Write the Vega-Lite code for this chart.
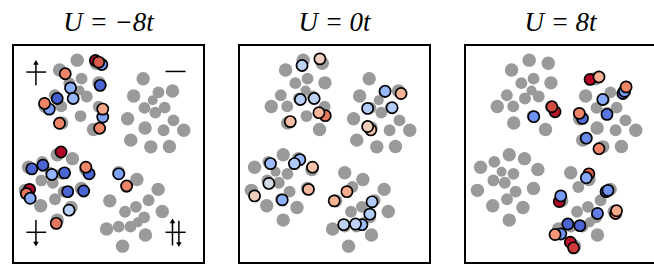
{
  "$schema": "https://vega.github.io/schema/vega-lite/v6.json",
  "padding": {"left": 12, "top": 8, "right": 0, "bottom": 0},
  "background": "#ffffff",
  "spacing": 33,
  "config": {
    "view": {"stroke": "#000000", "strokeWidth": 2},
    "title": {"font": "Liberation Serif", "fontSize": 27, "fontStyle": "italic", "fontWeight": "normal", "anchor": "middle", "color": "#000000", "offset": 8}
  },
  "datasets": {
    "sites": [
      {"x": 136.3, "y": 34, "ring": "o"}, {"x": 126.3, "y": 51.5, "ring": "o"}, {"x": 152.3, "y": 47.8, "ring": "i"}, {"x": 167, "y": 46.5, "ring": "o"},
      {"x": 146.3, "y": 55.7, "ring": "c"}, {"x": 137.7, "y": 63.5, "ring": "i"}, {"x": 158.8, "y": 63.2, "ring": "i"}, {"x": 149, "y": 68.2, "ring": "i"},
      {"x": 120, "y": 74.5, "ring": "o"}, {"x": 168, "y": 76, "ring": "i"}, {"x": 138.3, "y": 83.7, "ring": "o"}, {"x": 157.7, "y": 86, "ring": "i"},
      {"x": 178.8, "y": 86, "ring": "o"}, {"x": 123.3, "y": 96, "ring": "o"}, {"x": 144.3, "y": 102.8, "ring": "o"}, {"x": 163.8, "y": 102.5, "ring": "o"},
      {"x": 67.2, "y": 15.3, "ring": "o"}, {"x": 87.2, "y": 18.5, "ring": "o"}, {"x": 48.8, "y": 25.3, "ring": "o"}, {"x": 71.8, "y": 34, "ring": "i"},
      {"x": 59, "y": 38.5, "ring": "i"}, {"x": 90, "y": 38.2, "ring": "o"}, {"x": 69.7, "y": 46, "ring": "c"}, {"x": 43.8, "y": 50.7, "ring": "i"},
      {"x": 62.8, "y": 54, "ring": "i"}, {"x": 77.2, "y": 52, "ring": "i"}, {"x": 33.8, "y": 62, "ring": "o"}, {"x": 50.5, "y": 62, "ring": "i"},
      {"x": 89.7, "y": 62.3, "ring": "i"}, {"x": 70.7, "y": 71.7, "ring": "i"}, {"x": 51, "y": 78.7, "ring": "o"}, {"x": 84.3, "y": 85.2, "ring": "o"},
      {"x": 46.3, "y": 110.7, "ring": "o"}, {"x": 30.7, "y": 118, "ring": "i"}, {"x": 62.3, "y": 114.7, "ring": "o"}, {"x": 16.3, "y": 123.3, "ring": "o"},
      {"x": 38.3, "y": 128, "ring": "c"}, {"x": 50.7, "y": 130, "ring": "i"}, {"x": 76.3, "y": 125.7, "ring": "o"}, {"x": 29.7, "y": 136.7, "ring": "i"},
      {"x": 41.7, "y": 139, "ring": "i"}, {"x": 13, "y": 146.7, "ring": "o"}, {"x": 53, "y": 148, "ring": "i"}, {"x": 71.7, "y": 144.7, "ring": "o"},
      {"x": 44, "y": 155.7, "ring": "i"}, {"x": 29, "y": 162.3, "ring": "o"}, {"x": 60.7, "y": 164, "ring": "o"}, {"x": 46.3, "y": 176.7, "ring": "o"},
      {"x": 129.7, "y": 135.7, "ring": "o"}, {"x": 110.7, "y": 129, "ring": "o"}, {"x": 118.7, "y": 143.3, "ring": "i"}, {"x": 152, "y": 145.7, "ring": "o"},
      {"x": 101.3, "y": 157.3, "ring": "o"}, {"x": 142, "y": 156.7, "ring": "i"}, {"x": 128.7, "y": 163.3, "ring": "i"}, {"x": 117.3, "y": 168.3, "ring": "i"},
      {"x": 156.3, "y": 168, "ring": "o"}, {"x": 137.3, "y": 174, "ring": "i"}, {"x": 98, "y": 185.7, "ring": "o"}, {"x": 110.7, "y": 183.3, "ring": "i"},
      {"x": 123, "y": 183.3, "ring": "i"}, {"x": 130.7, "y": 179, "ring": "c"}, {"x": 138.7, "y": 191.7, "ring": "o"}, {"x": 114.7, "y": 203, "ring": "o"}
    ],
    "dots": [
      {"p": 1, "x": 93, "y": 19.7, "m": -0.55}, {"p": 1, "x": 86.3, "y": 15.7, "m": 1.0}, {"p": 1, "x": 89.7, "y": 17.3, "m": 0.75},
      {"p": 1, "x": 54.7, "y": 29, "m": 0.6}, {"p": 1, "x": 60.3, "y": 43.3, "m": -0.4}, {"p": 1, "x": 63, "y": 54, "m": -0.35},
      {"p": 1, "x": 46.3, "y": 54, "m": -0.9}, {"p": 1, "x": 38, "y": 64.7, "m": -0.55}, {"p": 1, "x": 33, "y": 59, "m": 0.6},
      {"p": 1, "x": 91.3, "y": 40.7, "m": -0.85}, {"p": 1, "x": 94, "y": 72.7, "m": -0.5}, {"p": 1, "x": 94, "y": 64.7, "m": 0.4},
      {"p": 1, "x": 48.7, "y": 79, "m": 0.6}, {"p": 1, "x": 90.7, "y": 84, "m": 0.6},
      {"p": 1, "x": 50.3, "y": 108, "m": 1.0}, {"p": 1, "x": 19.7, "y": 125, "m": -0.85}, {"p": 1, "x": 31.3, "y": 121.3, "m": -0.85},
      {"p": 1, "x": 40.7, "y": 130.7, "m": -0.35}, {"p": 1, "x": 54, "y": 129, "m": -0.85}, {"p": 1, "x": 79.7, "y": 130, "m": -0.85},
      {"p": 1, "x": 76.3, "y": 123.3, "m": 0.6}, {"p": 1, "x": 17.3, "y": 145.7, "m": 1.0}, {"p": 1, "x": 14, "y": 150, "m": 0.65},
      {"p": 1, "x": 18, "y": 154.7, "m": -0.45}, {"p": 1, "x": 57.3, "y": 148, "m": -0.85}, {"p": 1, "x": 74, "y": 147.3, "m": -0.85},
      {"p": 1, "x": 58.7, "y": 166.7, "m": -0.15}, {"p": 1, "x": 45.3, "y": 180, "m": 0.65},
      {"p": 1, "x": 110.7, "y": 130, "m": -0.5}, {"p": 1, "x": 119, "y": 142.3, "m": 0.6},
      {"p": 2, "x": 66, "y": 20.7, "m": -0.13}, {"p": 2, "x": 84.7, "y": 14, "m": 0.1}, {"p": 2, "x": 64.3, "y": 55, "m": -0.15},
      {"p": 2, "x": 78.7, "y": 54, "m": -0.13}, {"p": 2, "x": 90.3, "y": 71.3, "m": 0.65}, {"p": 2, "x": 83.7, "y": 68.3, "m": 0.3},
      {"p": 2, "x": 53.7, "y": 77.3, "m": 0.25}, {"p": 2, "x": 153, "y": 46.7, "m": -0.32}, {"p": 2, "x": 169.7, "y": 49, "m": 0.32},
      {"p": 2, "x": 134.7, "y": 64, "m": -0.17}, {"p": 2, "x": 160.3, "y": 63.3, "m": -0.17}, {"p": 2, "x": 138, "y": 85.7, "m": 0.22},
      {"p": 2, "x": 134.7, "y": 82.3, "m": 0.12}, {"p": 2, "x": 63.7, "y": 115.7, "m": -0.32}, {"p": 2, "x": 33, "y": 119.7, "m": -0.3},
      {"p": 2, "x": 58, "y": 119.7, "m": -0.18}, {"p": 2, "x": 77, "y": 123.3, "m": 0.22}, {"p": 2, "x": 31.3, "y": 139.7, "m": -0.04},
      {"p": 2, "x": 16.3, "y": 152.3, "m": 0.12}, {"p": 2, "x": 45.3, "y": 156.3, "m": -0.38}, {"p": 2, "x": 72.7, "y": 145.7, "m": 0.28},
      {"p": 2, "x": 113, "y": 148, "m": 0.38}, {"p": 2, "x": 99.7, "y": 157.3, "m": 0.32}, {"p": 2, "x": 139.3, "y": 158.3, "m": -0.17},
      {"p": 2, "x": 137, "y": 170.7, "m": -0.17}, {"p": 2, "x": 128.7, "y": 181.3, "m": -0.3}, {"p": 2, "x": 109.7, "y": 181.3, "m": -0.13},
      {"p": 2, "x": 122, "y": 180.7, "m": -0.13},
      {"p": 3, "x": 72, "y": 72.3, "m": -0.6}, {"p": 3, "x": 94.3, "y": 67.3, "m": 0.95}, {"p": 3, "x": 91, "y": 62.3, "m": 0.8},
      {"p": 3, "x": 131, "y": 34.7, "m": 1.0}, {"p": 3, "x": 140.3, "y": 32.3, "m": 0.35}, {"p": 3, "x": 165.3, "y": 49, "m": -0.9},
      {"p": 3, "x": 167, "y": 46.7, "m": -0.55}, {"p": 3, "x": 168.7, "y": 42.3, "m": 0.6}, {"p": 3, "x": 144.3, "y": 55, "m": -0.45},
      {"p": 3, "x": 148.7, "y": 70, "m": -0.75}, {"p": 3, "x": 123, "y": 74, "m": -0.8}, {"p": 3, "x": 119.7, "y": 69, "m": 0.6},
      {"p": 3, "x": 127, "y": 94, "m": -0.65}, {"p": 3, "x": 140.3, "y": 104.7, "m": 0.6},
      {"p": 3, "x": 129.7, "y": 130, "m": 0.75}, {"p": 3, "x": 127, "y": 134, "m": -0.45}, {"p": 3, "x": 98.7, "y": 158, "m": 1.0},
      {"p": 3, "x": 100.3, "y": 152.3, "m": -0.55}, {"p": 3, "x": 147.7, "y": 148, "m": -0.9}, {"p": 3, "x": 149.7, "y": 146.7, "m": -0.6},
      {"p": 3, "x": 138.7, "y": 170, "m": -0.7}, {"p": 3, "x": 157.7, "y": 170, "m": 0.6}, {"p": 3, "x": 158.7, "y": 167.3, "m": 0.4},
      {"p": 3, "x": 107.7, "y": 180.7, "m": -0.85}, {"p": 3, "x": 120.3, "y": 182.3, "m": -0.85}, {"p": 3, "x": 100.3, "y": 190.7, "m": -0.6},
      {"p": 3, "x": 94.3, "y": 191.3, "m": 0.5}, {"p": 3, "x": 110.3, "y": 199, "m": 0.95}, {"p": 3, "x": 113.7, "y": 204.7, "m": 0.85}
    ],
    "glyphs": [
      {"x": 14, "y": 27.3, "x2": 34.7, "y2": 27.3}, {"x": 24, "y": 18, "x2": 24, "y2": 40.7},
      {"x": 159.7, "y": 26.7, "x2": 180.7, "y2": 26.7},
      {"x": 14, "y": 189, "x2": 34.7, "y2": 189}, {"x": 24, "y": 176.7, "x2": 24, "y2": 200},
      {"x": 159.7, "y": 189, "x2": 180.7, "y2": 189}, {"x": 167, "y": 178, "x2": 167, "y2": 202.3}, {"x": 173.7, "y": 177.3, "x2": 173.7, "y2": 201}
    ],
    "arrows": [
      {"x": 24, "y": 17.5, "dir": "up"}, {"x": 24, "y": 201, "dir": "down"},
      {"x": 167, "y": 177.5, "dir": "up"}, {"x": 173.7, "y": 201.5, "dir": "down"}
    ]
  },
  "hconcat": [
    {
      "width": 191, "height": 218,
      "title": {"text": "U = −8t"},
      "layer": [
        {"data": {"name": "sites"}, "mark": {"type": "circle", "color": "#9a9a9a", "opacity": 1},
         "encoding": {"x": {"field": "x", "type": "quantitative", "scale": {"domain": [0, 191]}, "axis": null},
                      "y": {"field": "y", "type": "quantitative", "scale": {"domain": [0, 218], "reverse": true}, "axis": null},
                      "size": {"field": "ring", "type": "ordinal", "scale": {"domain": ["c", "i", "o"], "range": [100, 180, 270]}, "legend": null}}},
        {"data": {"name": "dots"}, "transform": [{"filter": "datum.p == 1"}],
         "mark": {"type": "circle", "size": 125, "stroke": "#000000", "strokeWidth": 1.7, "opacity": 1},
         "encoding": {"x": {"field": "x", "type": "quantitative"}, "y": {"field": "y", "type": "quantitative"},
                      "color": {"field": "m", "type": "quantitative", "scale": {"interpolate": "rgb", "domain": [-1, -0.8, -0.6, -0.4, -0.2, -0.1, 0, 0.1, 0.2, 0.4, 0.6, 0.8, 1], "range": ["#3b4cc0", "#516ddb", "#6f92f3", "#8db0fe", "#aac7fd", "#c5d6f2", "#dddcdc", "#efcfbf", "#f4c5ad", "#f7a889", "#ee8468", "#d24b40", "#b40426"]}, "legend": null}}},
        {"data": {"name": "glyphs"}, "mark": {"type": "rule", "color": "#000000", "strokeWidth": 1.5},
         "encoding": {"x": {"field": "x", "type": "quantitative"}, "y": {"field": "y", "type": "quantitative"},
                      "x2": {"field": "x2"}, "y2": {"field": "y2"}}},
        {"data": {"name": "arrows"}, "mark": {"type": "point", "filled": true, "color": "#000000", "size": 30, "opacity": 1},
         "encoding": {"x": {"field": "x", "type": "quantitative"}, "y": {"field": "y", "type": "quantitative"},
                      "shape": {"field": "dir", "type": "nominal", "scale": {"domain": ["up", "down"], "range": ["triangle-up", "triangle-down"]}, "legend": null}}}
      ]
    },
    {
      "width": 191, "height": 218,
      "title": {"text": "U = 0t"},
      "layer": [
        {"data": {"name": "sites"}, "mark": {"type": "circle", "color": "#9a9a9a", "opacity": 1},
         "encoding": {"x": {"field": "x", "type": "quantitative", "scale": {"domain": [0, 191]}, "axis": null},
                      "y": {"field": "y", "type": "quantitative", "scale": {"domain": [0, 218], "reverse": true}, "axis": null},
                      "size": {"field": "ring", "type": "ordinal", "scale": {"domain": ["c", "i", "o"], "range": [100, 180, 270]}, "legend": null}}},
        {"data": {"name": "dots"}, "transform": [{"filter": "datum.p == 2"}],
         "mark": {"type": "circle", "size": 125, "stroke": "#000000", "strokeWidth": 1.7, "opacity": 1},
         "encoding": {"x": {"field": "x", "type": "quantitative"}, "y": {"field": "y", "type": "quantitative"},
                      "color": {"field": "m", "type": "quantitative", "scale": {"interpolate": "rgb", "domain": [-1, -0.8, -0.6, -0.4, -0.2, -0.1, 0, 0.1, 0.2, 0.4, 0.6, 0.8, 1], "range": ["#3b4cc0", "#516ddb", "#6f92f3", "#8db0fe", "#aac7fd", "#c5d6f2", "#dddcdc", "#efcfbf", "#f4c5ad", "#f7a889", "#ee8468", "#d24b40", "#b40426"]}, "legend": null}}}
      ]
    },
    {
      "width": 191, "height": 218,
      "title": {"text": "U = 8t"},
      "layer": [
        {"data": {"name": "sites"}, "mark": {"type": "circle", "color": "#9a9a9a", "opacity": 1},
         "encoding": {"x": {"field": "x", "type": "quantitative", "scale": {"domain": [0, 191]}, "axis": null},
                      "y": {"field": "y", "type": "quantitative", "scale": {"domain": [0, 218], "reverse": true}, "axis": null},
                      "size": {"field": "ring", "type": "ordinal", "scale": {"domain": ["c", "i", "o"], "range": [100, 180, 270]}, "legend": null}}},
        {"data": {"name": "dots"}, "transform": [{"filter": "datum.p == 3"}],
         "mark": {"type": "circle", "size": 125, "stroke": "#000000", "strokeWidth": 1.7, "opacity": 1},
         "encoding": {"x": {"field": "x", "type": "quantitative"}, "y": {"field": "y", "type": "quantitative"},
                      "color": {"field": "m", "type": "quantitative", "scale": {"interpolate": "rgb", "domain": [-1, -0.8, -0.6, -0.4, -0.2, -0.1, 0, 0.1, 0.2, 0.4, 0.6, 0.8, 1], "range": ["#3b4cc0", "#516ddb", "#6f92f3", "#8db0fe", "#aac7fd", "#c5d6f2", "#dddcdc", "#efcfbf", "#f4c5ad", "#f7a889", "#ee8468", "#d24b40", "#b40426"]}, "legend": null}}}
      ]
    }
  ]
}
